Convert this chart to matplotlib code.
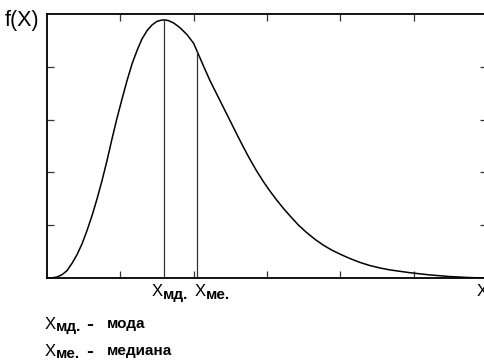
import matplotlib
matplotlib.use("Agg")
import matplotlib.pyplot as plt

plt.rcParams['font.family'] = ['Liberation Sans', 'DejaVu Sans']

# curve (x in axis units 0..6, y in axis units 0..5)
x_vals = [0.0, 0.07, 0.136, 0.205, 0.273, 0.341, 0.409, 0.477, 0.545, 0.614, 0.682,
          0.750, 0.818, 0.886, 0.955, 1.023, 1.091, 1.159, 1.227, 1.295, 1.364,
          1.432, 1.500, 1.568, 1.614, 1.659, 1.727, 1.818, 1.909, 2.000, 2.045,
          2.132, 2.223, 2.314, 2.405, 2.496, 2.587, 2.677, 2.768, 2.859, 2.950,
          3.041, 3.132, 3.223, 3.314, 3.427, 3.541, 3.655, 3.768, 3.882, 3.996,
          4.132, 4.268, 4.405, 4.541, 4.677, 4.950, 5.223, 5.495, 5.768, 5.973]
y_vals = [0.0, 0.003, 0.019, 0.063, 0.139, 0.278, 0.442, 0.644, 0.896, 1.181, 1.496,
          1.843, 2.222, 2.633, 3.030, 3.390, 3.737, 4.053, 4.306, 4.527, 4.684,
          4.792, 4.861, 4.886, 4.886, 4.874, 4.830, 4.735, 4.609, 4.444, 4.300,
          4.021, 3.737, 3.485, 3.232, 2.980, 2.727, 2.482, 2.245, 2.027, 1.827,
          1.645, 1.477, 1.320, 1.176, 1.005, 0.860, 0.732, 0.622, 0.530, 0.452,
          0.368, 0.295, 0.235, 0.190, 0.153, 0.100, 0.058, 0.027, 0.008, 0.0]

x_mode, y_mode = 1.595, 4.886
x_median, y_median = 2.045, 4.30

W, H = 485, 364
fig = plt.figure(figsize=(W / 100, H / 100), dpi=100)
ax = fig.add_axes([47 / W, 1 - 278 / H, 440 / W, 264 / H])
ax.plot(x_vals, y_vals, color='black', lw=1.1, solid_joinstyle='round')
ax.plot([x_mode, x_mode], [0, y_mode], color='#333333', lw=0.9)
ax.plot([x_median, x_median], [0, y_median], color='#333333', lw=0.9)

ax.set_xlim(0, 6)
ax.set_ylim(0, 5)
ax.set_xticks([1, 2, 3, 4, 5])
ax.set_yticks([1, 2, 3, 4])
ax.tick_params(direction='in', length=5, width=0.9, color='#333333',
               top=True, right=True, labelbottom=False, labelleft=False)
for s in ax.spines.values():
    s.set_linewidth(1.3)
    s.set_color('black')


def ftxt(px, py, s, **kw):
    fig.text(px / W, 1 - py / H, s, va='baseline', ha='left', **kw)


ftxt(5, 26, 'f(X)', fontsize=15.5)
# axis labels
ftxt(152, 296, 'X', fontsize=12)
ftxt(163, 299, 'мд.', fontsize=11, fontweight='bold')
ftxt(195, 296, 'X', fontsize=12)
ftxt(206, 299, 'ме.', fontsize=11, fontweight='bold')
ftxt(477, 296, 'X', fontsize=12)
# legend
ftxt(45, 329, 'X', fontsize=12)
ftxt(56, 331, 'мд.', fontsize=11, fontweight='bold')
ftxt(86, 330, '-', fontsize=15, fontweight='bold')
ftxt(107, 328, 'мода', fontsize=11, fontweight='bold')
ftxt(45, 356, 'X', fontsize=12)
ftxt(56, 358, 'ме.', fontsize=11, fontweight='bold')
ftxt(86, 357, '-', fontsize=15, fontweight='bold')
ftxt(107, 355, 'медиана', fontsize=11, fontweight='bold')

fig.savefig('out.png', dpi=100)
